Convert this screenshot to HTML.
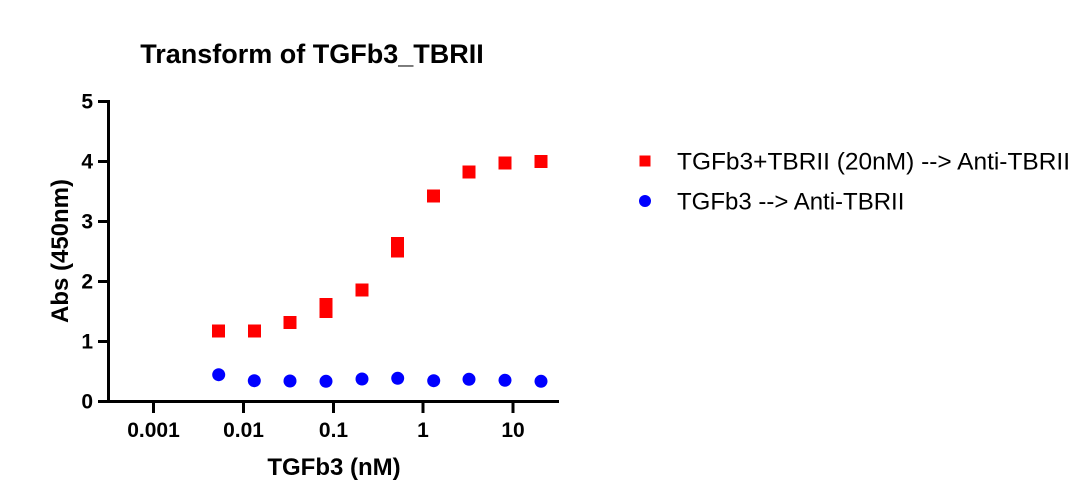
<!DOCTYPE html>
<html><head><meta charset="utf-8"><style>
html,body{margin:0;padding:0;background:#fff;}
svg{display:block;font-family:"Liberation Sans",Arial,sans-serif;}
</style></head><body>
<svg width="1076" height="499" viewBox="0 0 1076 499">
<text x="312" y="63" font-size="27" font-weight="bold" text-anchor="middle">Transform of TGFb3_TBRII</text>
<g stroke="#000" stroke-width="3" fill="none">
<path d="M108.5,100 V401.5 H559"/>
<path d="M98,101.5H108.5 M98,161.5H108.5 M98,221.5H108.5 M98,281.5H108.5 M98,341.5H108.5 M98,401.5H108.5"/>
<path d="M153.5,401.5V413 M243.5,401.5V413 M333.5,401.5V413 M423,401.5V413 M513,401.5V413"/>
</g>
<g font-size="21" font-weight="bold" text-anchor="end">
<text x="93" y="108.5">5</text><text x="93" y="168.5">4</text><text x="93" y="228.5">3</text>
<text x="93" y="288.5">2</text><text x="93" y="348.5">1</text><text x="93" y="408.5">0</text>
</g>
<g font-size="21" font-weight="bold" text-anchor="middle">
<text x="153.5" y="437">0.001</text><text x="243.5" y="437">0.01</text><text x="333.5" y="437">0.1</text>
<text x="423" y="437">1</text><text x="513" y="437">10</text>
</g>
<text x="334" y="475" font-size="24" font-weight="bold" text-anchor="middle">TGFb3 (nM)</text>
<text transform="translate(68,251) rotate(-90)" font-size="24" font-weight="bold" text-anchor="middle">Abs (450nm)</text>
<g fill="#ff0000">
<rect x="212" y="324.5" width="13" height="13"/>
<rect x="248" y="324.5" width="13" height="13"/>
<rect x="283.5" y="316" width="13" height="13"/>
<rect x="319.5" y="298" width="13" height="13"/>
<rect x="319.5" y="305" width="13" height="13"/>
<rect x="355.5" y="283.5" width="13" height="13"/>
<rect x="391" y="237" width="13" height="13"/>
<rect x="391" y="244.5" width="13" height="13"/>
<rect x="427" y="189.5" width="13" height="13"/>
<rect x="462.5" y="165.5" width="13" height="13"/>
<rect x="498.5" y="156.5" width="13" height="13"/>
<rect x="534.5" y="155" width="13" height="13"/>
</g>
<g fill="#0000ff">
<circle cx="218.7" cy="374.7" r="6.5"/><circle cx="254.3" cy="380.7" r="6.5"/>
<circle cx="290" cy="381" r="6.5"/><circle cx="326" cy="381.3" r="6.5"/>
<circle cx="362" cy="379" r="6.5"/><circle cx="397.7" cy="378.3" r="6.5"/>
<circle cx="433.7" cy="380.7" r="6.5"/><circle cx="469" cy="379.3" r="6.5"/>
<circle cx="505" cy="380.3" r="6.5"/><circle cx="541" cy="381.3" r="6.5"/>
</g>
<rect x="639.5" y="155.5" width="11" height="11" fill="#ff0000"/>
<circle cx="645" cy="201" r="6" fill="#0000ff"/>
<text x="677" y="169.5" font-size="24" textLength="393" lengthAdjust="spacingAndGlyphs">TGFb3+TBRII (20nM) --&gt; Anti-TBRII</text>
<text x="677" y="209.5" font-size="24">TGFb3 --&gt; Anti-TBRII</text>
</svg>
</body></html>
